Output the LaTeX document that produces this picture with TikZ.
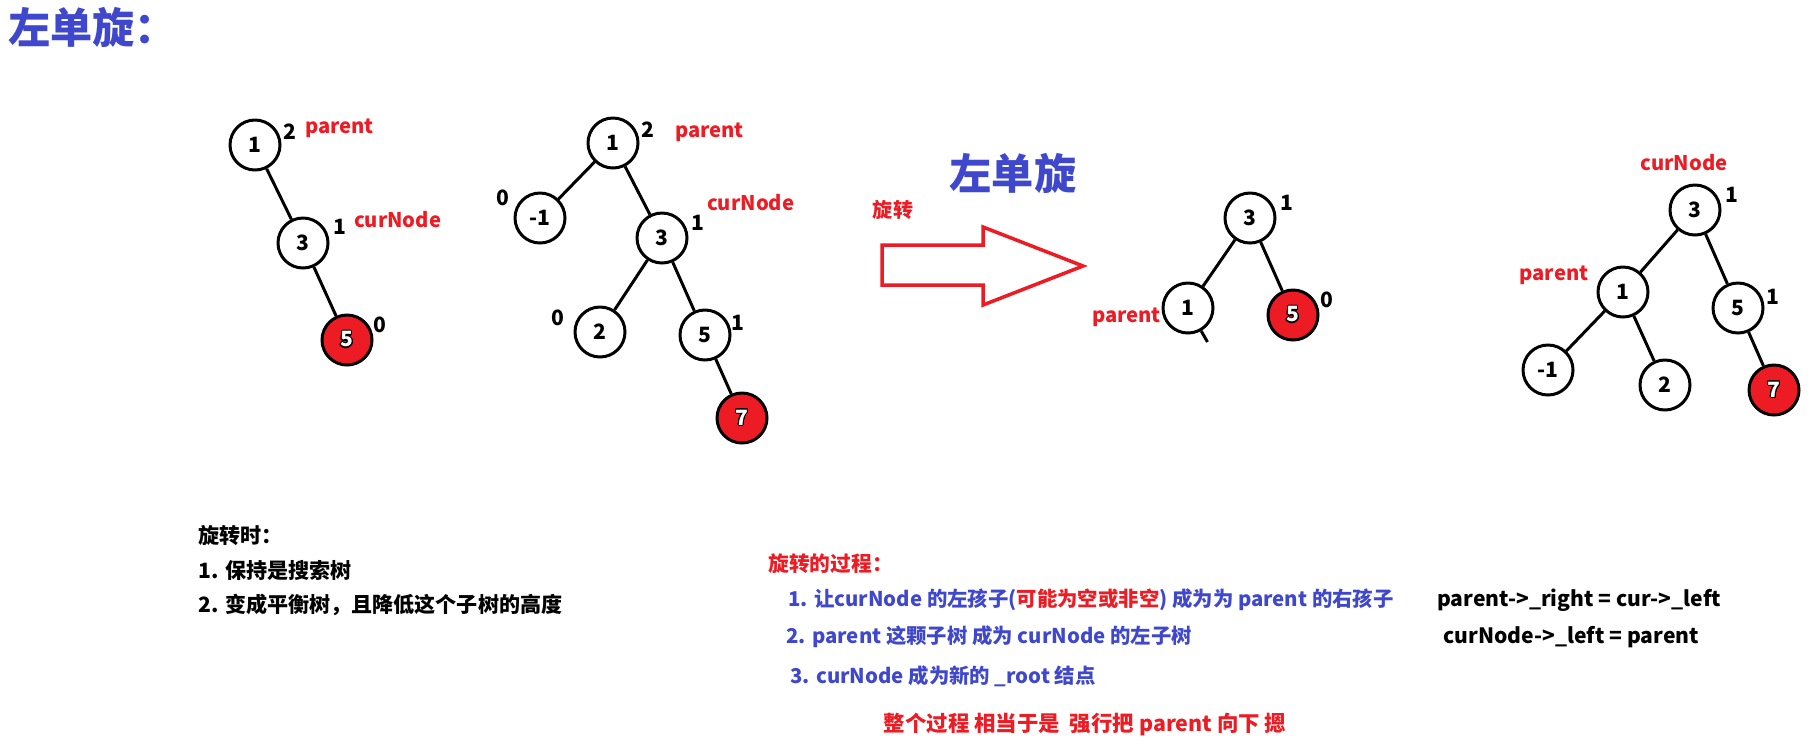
\documentclass[tikz,border=0pt]{standalone}
\usepackage{fontspec}
\setmainfont{Noto Sans CJK SC}
\usepackage{xcolor}
\definecolor{paintblue}{HTML}{3F48CC}
\definecolor{paintred}{HTML}{ED1C24}
\usepackage{contour}
\contourlength{0.6pt}
\usepackage{tikz}
\usetikzlibrary{positioning,calc}

\begin{document}
\begin{tikzpicture}[
    every node/.style={font=\bfseries\fontsize{12}{14}\selectfont},
    nd/.style={draw=black, circle, line width=1.7pt, fill=white,
               minimum size=1cm, inner sep=0pt},
    rnd/.style={nd, fill=paintred},
    bal/.style={inner sep=1pt},
    tag/.style={text=paintred, inner sep=1pt, font=\bfseries\fontsize{11.5}{13}\selectfont},
    title/.style={text=paintblue, inner sep=0pt, font=\bfseries\fontsize{24}{28}\selectfont},
    note/.style={anchor=west, inner sep=0pt, font=\bfseries\fontsize{12}{14}\selectfont},
    steps/.style={anchor=west, inner sep=0pt, text=paintblue,
                  font=\bfseries\fontsize{11.6}{13}\selectfont},
    code/.style={anchor=west, inner sep=0pt, font=\bfseries\fontsize{12}{14}\selectfont},
    edge/.style={line width=1.7pt, draw=black},
    bigarrow/.style={draw=paintred, line width=2pt, line join=miter}]
  \useasboundingbox (0,0) rectangle (36.2,-14.88);
  \node[title, anchor=west] (head) at (0.16,-0.54) {左单旋：};

  \node[nd]  (a1) at (5.10,-2.90) {1};
  \node[nd]  (a3) at (6.06,-4.86) {3};
  \node[rnd] (a5) at (6.94,-6.80) {\contour{black}{\textcolor{white}{5}}};
  \node[bal] (a1b) at (5.80,-2.64) {2};
  \node[tag, anchor=west] (a1t) at (6.06,-2.56) {parent};
  \node[bal] (a3b) at (6.80,-4.54) {1};
  \node[tag, anchor=west] (a3t) at (7.04,-4.40) {curNode};
  \node[bal] (a5b) at (7.60,-6.50) {0};
  \draw[edge] (a1) -- (a3);
  \draw[edge] (a3) -- (a5);

  \node[nd]  (b1) at (12.26,-2.86) {1};
  \node[nd]  (bm) at (10.80,-4.36) {-1};
  \node[nd]  (b3) at (13.24,-4.76) {3};
  \node[nd]  (b2) at (12.00,-6.64) {2};
  \node[nd]  (b5) at (14.10,-6.70) {5};
  \node[rnd] (b7) at (14.84,-8.36) {\contour{black}{\textcolor{white}{7}}};
  \node[bal] (b1b) at (12.96,-2.60) {2};
  \node[tag, anchor=west] (b1t) at (13.46,-2.64) {parent};
  \node[bal] (bmb) at (10.06,-3.96) {0};
  \node[bal] (b3b) at (13.96,-4.46) {1};
  \node[tag, anchor=west] (b3t) at (14.10,-4.06) {curNode};
  \node[bal] (b2b) at (11.16,-6.36) {0};
  \node[bal] (b5b) at (14.76,-6.46) {1};
  \draw[edge] (b1) -- (bm);
  \draw[edge] (b1) -- (b3);
  \draw[edge] (b3) -- (b2);
  \draw[edge] (b3) -- (b5);
  \draw[edge] (b5) -- (b7);

  \node[tag, font=\bfseries\fontsize{11.4}{13}\selectfont] (rot) at (17.86,-4.20) {旋转};
  \node[title] (mid) at (20.26,-3.46) {左单旋};
  \draw[bigarrow] (17.64,-4.90) -- (19.66,-4.90) -- (19.66,-4.54) -- (21.66,-5.32)
    -- (19.66,-6.10) -- (19.66,-5.70) -- (17.64,-5.70) -- cycle;

  \node[nd]  (c3) at (25.00,-4.36) {3};
  \node[nd]  (c1) at (23.76,-6.16) {1};
  \node[rnd] (c5) at (25.86,-6.30) {\contour{black}{\textcolor{white}{5}}};
  \node[bal] (c3b) at (25.74,-4.06) {1};
  \node[bal] (c5b) at (26.54,-6.00) {0};
  \node[tag, anchor=east] (c1t) at (23.26,-6.34) {parent};
  \coordinate (c1s) at (24.15,-6.84);
  \draw[edge] (c3) -- (c1);
  \draw[edge] (c3) -- (c5);
  \draw[edge] (c1) -- (c1s);

  \node[nd]  (d3) at (33.90,-4.20) {3};
  \node[nd]  (d1) at (32.46,-5.84) {1};
  \node[nd]  (d5) at (34.76,-6.16) {5};
  \node[nd]  (dm) at (30.96,-7.40) {-1};
  \node[nd]  (d2) at (33.30,-7.70) {2};
  \node[rnd] (d7) at (35.48,-7.80) {\contour{black}{\textcolor{white}{7}}};
  \node[tag] (d3t) at (33.68,-3.26) {curNode};
  \node[bal] (d3b) at (34.64,-3.90) {1};
  \node[tag] (d1t) at (31.08,-5.50) {parent};
  \node[bal] (d5b) at (35.46,-5.94) {1};
  \draw[edge] (d3) -- (d1);
  \draw[edge] (d3) -- (d5);
  \draw[edge] (d1) -- (dm);
  \draw[edge] (d1) -- (d2);
  \draw[edge] (d5) -- (d7);

  \node[note] (n0) at (3.96,-10.72) {旋转时：};
  \node[note] (n1) at (3.96,-11.40) {1. 保持是搜索树};
  \node[note] (n2) at (3.96,-12.10) {2. 变成平衡树，且降低这个子树的高度};

  \node[note, text=paintred, font=\bfseries\fontsize{11.8}{13}\selectfont] (s0) at (15.36,-11.28) {旋转的过程：};
  \node[steps] (s1) at (15.76,-12.00) {1. 让curNode 的左孩子(\textcolor{paintred}{可能为空或非空}) 成为为 parent 的右孩子};
  \node[steps] (s2) at (15.72,-12.74) {2. parent 这颗子树 成为 curNode 的左子树};
  \node[steps] (s3) at (15.80,-13.52) {3. curNode 成为新的 \_root 结点};
  \node[tag, font=\bfseries\fontsize{12.2}{14}\selectfont] (sum) at (21.70,-14.50) {整个过程 相当于是 \ 强行把 parent 向下 摁};

  \node[code] (k1) at (28.74,-12.00) {parent->\_right = cur->\_left};
  \node[code] (k2) at (28.86,-12.74) {curNode->\_left = parent};
\end{tikzpicture}
\end{document}
